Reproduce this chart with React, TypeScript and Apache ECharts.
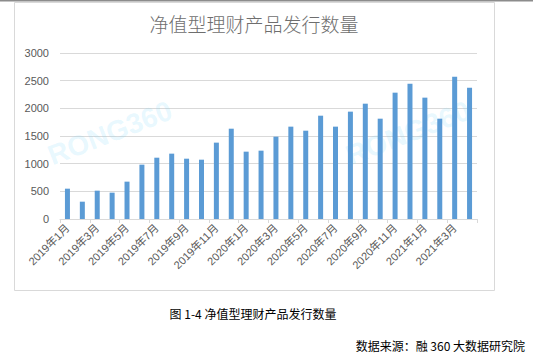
import React, { useEffect, useRef } from "react";
import * as echarts from "echarts";

const categories: string[] = [
  "2019年1月", "2019年2月", "2019年3月", "2019年4月", "2019年5月", "2019年6月",
  "2019年7月", "2019年8月", "2019年9月", "2019年10月", "2019年11月", "2019年12月",
  "2020年1月", "2020年2月", "2020年3月", "2020年4月", "2020年5月", "2020年6月",
  "2020年7月", "2020年8月", "2020年9月", "2020年10月", "2020年11月", "2020年12月",
  "2021年1月", "2021年2月", "2021年3月", "2021年4月",
];
const issuance: number[] = [
  548, 313, 512, 476, 675, 982, 1108, 1181, 1090, 1072, 1380, 1632,
  1217, 1235, 1488, 1669, 1596, 1867, 1669, 1940, 2084, 1813, 2283, 2446,
  2193, 1813, 2572, 2373,
];
const yTicks = { min: 0, max: 3000, interval: 500 };
const titleText = "净值型理财产品发行数量";
const captionText = "图 1-4 净值型理财产品发行数量";
const sourceText = "数据来源：融 360 大数据研究院";
const watermark = "RONG360";

const FONT = "'Liberation Sans', 'Noto Sans CJK SC', sans-serif";
const CJK = "'Noto Sans CJK SC', sans-serif";

export default function App() {
  const ref = useRef<HTMLDivElement>(null);
  useEffect(() => {
    if (!ref.current) return;
    const chart = echarts.init(ref.current, null, { renderer: "svg" });
    chart.setOption({
      animation: false,
      backgroundColor: "#ffffff",
      grid: { left: 60, right: 56, top: 53, bottom: 139, containLabel: false },
      xAxis: {
        type: "category",
        data: categories,
        boundaryGap: true,
        axisLine: { show: true, lineStyle: { color: "#d9d9d9", width: 1 } },
        axisTick: { show: true, interval: 1, length: 4, lineStyle: { color: "#d9d9d9" } },
        axisLabel: {
          interval: 1,
          rotate: 45,
          margin: 7,
          fontSize: 11,
          color: "#595959",
          fontFamily: FONT,
        },
      },
      yAxis: {
        type: "value",
        min: yTicks.min,
        max: yTicks.max,
        interval: yTicks.interval,
        axisLine: { show: false },
        axisTick: { show: false },
        splitLine: { lineStyle: { color: "#d9d9d9", width: 1 } },
        axisLabel: {
          fontSize: 11,
          color: "#595959",
          margin: 11,
          fontFamily: FONT,
          formatter: (v: number) => String(v),
        },
      },
      series: [
        {
          type: "bar",
          data: issuance,
          barWidth: 5,
          itemStyle: { color: "#5b9bd5" },
          z: 3,
        },
      ],
      graphic: [
        { type: "rect", left: 0, top: 0, shape: { width: 533, height: 1.5 }, style: { fill: "#8c8c8c" }, z: 10 },
        {
          type: "rect",
          shape: { x: 14.5, y: 2.5, width: 480, height: 288 },
          style: { fill: "none", stroke: "#d9d9d9", lineWidth: 1 },
          z: 0,
        },
        {
          type: "text",
          x: 254,
          y: 23,
          style: {
            text: titleText,
            fontSize: 19,
            fontWeight: 300,
            fill: "#6e6e6e",
            fontFamily: CJK,
            textAlign: "center",
            textVerticalAlign: "middle",
          },
        },
        {
          type: "text",
          x: 110,
          y: 133,
          rotation: 0.37,
          z: 1,
          style: {
            text: watermark,
            fontSize: 28,
            fontWeight: "bold",
            fill: "rgba(120, 215, 250, 0.18)",
            fontFamily: FONT,
            textAlign: "center",
            textVerticalAlign: "middle",
          },
        },
        {
          type: "text",
          x: 408,
          y: 133,
          rotation: 0.37,
          z: 1,
          style: {
            text: watermark,
            fontSize: 28,
            fontWeight: "bold",
            fill: "rgba(120, 215, 250, 0.18)",
            fontFamily: FONT,
            textAlign: "center",
            textVerticalAlign: "middle",
          },
        },
        {
          type: "text",
          x: 253,
          y: 313,
          style: {
            text: captionText,
            fontSize: 12,
            fill: "#000000",
            fontFamily: CJK,
            textAlign: "center",
            textVerticalAlign: "middle",
          },
        },
        {
          type: "text",
          x: 525,
          y: 345,
          style: {
            text: sourceText,
            fontSize: 12,
            fill: "#000000",
            fontFamily: CJK,
            textAlign: "right",
            textVerticalAlign: "middle",
          },
        },
      ],
    });
    return () => chart.dispose();
  }, []);
  return (
    <div
      ref={ref}
      style={{ position: "absolute", left: 0, top: 0, width: 533, height: 358 }}
    />
  );
}
